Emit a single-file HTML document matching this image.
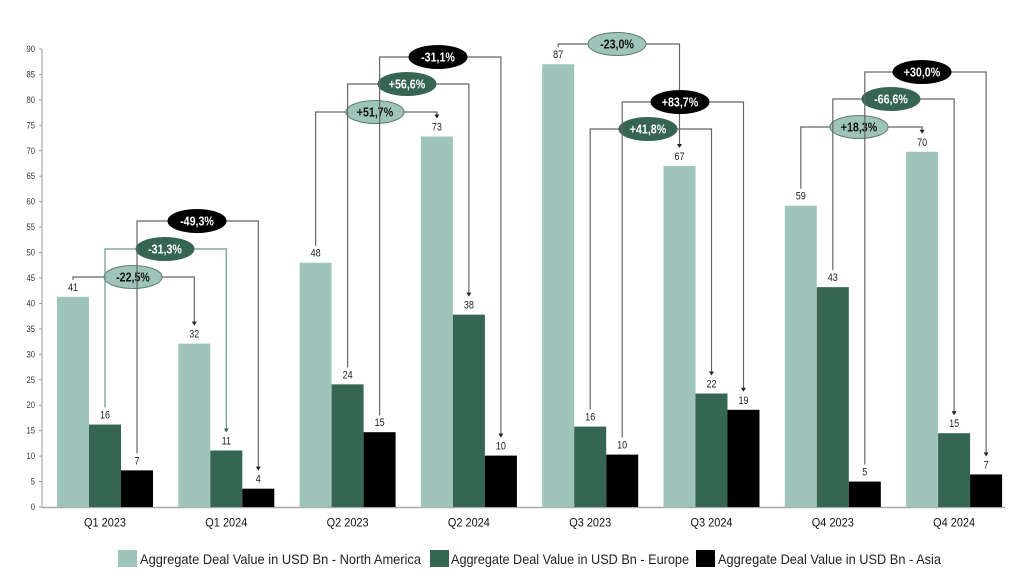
<!DOCTYPE html>
<html><head><meta charset="utf-8">
<style>
html,body{margin:0;padding:0;background:#fff;}
svg{display:block;font-family:"Liberation Sans",sans-serif;}
</style></head>
<body>
<svg id="c" width="1024" height="576" viewBox="0 0 1024 576" xmlns="http://www.w3.org/2000/svg"></svg>
<script>
const s=document.getElementById('c');let h='';
const Y=v=>507-5.089*v;
const NA=[41.3,32.1,48,72.8,87,67,59.2,69.8],EU=[16.2,11.1,24.1,37.8,15.8,22.3,43.2,14.5],AS=[7.2,3.6,14.7,10.1,10.3,19.1,5,6.4];
const LN=[41,32,48,73,87,67,59,70],LE=[16,11,24,38,16,22,43,15],LA=[7,4,15,10,10,19,5,7];
const cols=['#9fc4b9','#376554','#000'];
h+='<line x1="42" y1="49" x2="42" y2="507" stroke="#999" stroke-width="1"/>';
h+='<line x1="42" y1="507.5" x2="1005" y2="507.5" stroke="#aaa" stroke-width="1.5"/>';
for(let v=0;v<=90;v+=5){const y=Y(v);h+=`<line x1="39" y1="${y}" x2="42" y2="${y}" stroke="#999"/>`;
h+=`<text x="${35/0.85}" y="${y+3}" font-size="9" text-anchor="end" fill="#333" transform="scale(0.85,1)">${v}</text>`;}
const labels=['Q1 2023','Q1 2024','Q2 2023','Q2 2024','Q3 2023','Q3 2024','Q4 2023','Q4 2024'];
function txt(x,y,t,sz,fill,anchor,w){return `<text x="${x/0.82}" y="${y}" font-size="${sz}" fill="${fill}" text-anchor="${anchor||'middle'}" font-weight="${w||'normal'}" transform="scale(0.82,1)">${t}</text>`;}
for(let g=0;g<8;g++){const x0=57+121.3*g;const vals=[NA[g],EU[g],AS[g]],ls=[LN[g],LE[g],LA[g]];
for(let i=0;i<3;i++){const x=x0+32*i,y=Y(vals[i]);h+=`<rect x="${x}" y="${y}" width="32" height="${507-y}" fill="${cols[i]}"/>`;h+=txt(x+16,y-6,ls[i],11,'#222');}
h+=`<text x="${x0+48}" y="526.5" font-size="12" fill="#111" text-anchor="middle" textLength="42" lengthAdjust="spacingAndGlyphs">${labels[g]}</text>`;}
function ann(g,i,yb,ex,label,type){const x0=57+121.3*g,x1=x0+32*i+16,x2=x1+121.3;
const vL=[NA,EU,AS][i][g],vR=[NA,EU,AS][i][g+1];
const stroke=(type==1&&g==0)?'#6a9a8c':'#666';
h+=`<polyline points="${x1},${Y(vL)-17} ${x1},${yb} ${x2},${yb} ${x2},${Y(vR)-21}" fill="none" stroke="${stroke}" stroke-width="1.2"/>`;
h+=`<path d="M${x2-2.5},${Y(vR)-22} L${x2+2.5},${Y(vR)-22} L${x2},${Y(vR)-18} Z" fill="${type==1&&g==0?'#376554':'#222'}"/>`;
const fill=['#9fc4b9','#376554','#000'][type];const tc=type==0?'#111':'#fff';
h+=`<ellipse cx="${ex}" cy="${yb}" rx="29" ry="11.5" fill="${fill}" stroke="${type==0?'#5e7d73':fill}" stroke-width="1"/>`;
h+=txt(ex,yb+4.5,label,13,tc,'middle','bold');}
ann(0,0,277,133,'-22,5%',0);ann(0,1,249,165,'-31,3%',1);ann(0,2,221,197,'-49,3%',2);
ann(2,0,112,375,'+51,7%',0);ann(2,1,84,407,'+56,6%',1);ann(2,2,57,438,'-31,1%',2);
ann(4,0,44,617,'-23,0%',0);ann(4,1,129,648,'+41,8%',1);ann(4,2,102,680,'+83,7%',2);
ann(6,0,127,859,'+18,3%',0);ann(6,1,99,891,'-66,6%',1);ann(6,2,72,922,'+30,0%',2);
const lg=[[118,140,'Aggregate Deal Value in USD Bn - North America',281],[430,451,'Aggregate Deal Value in USD Bn - Europe',238],[696,718,'Aggregate Deal Value in USD Bn - Asia',223]];
lg.forEach((l,i)=>{h+=`<rect x="${l[0]}" y="550" width="19" height="17" fill="${cols[i]}"/>`;
h+=`<text x="${l[1]}" y="564" font-size="14" fill="#222" textLength="${l[3]}" lengthAdjust="spacingAndGlyphs">${l[2]}</text>`;});
s.innerHTML=h;
</script>
</body></html>
